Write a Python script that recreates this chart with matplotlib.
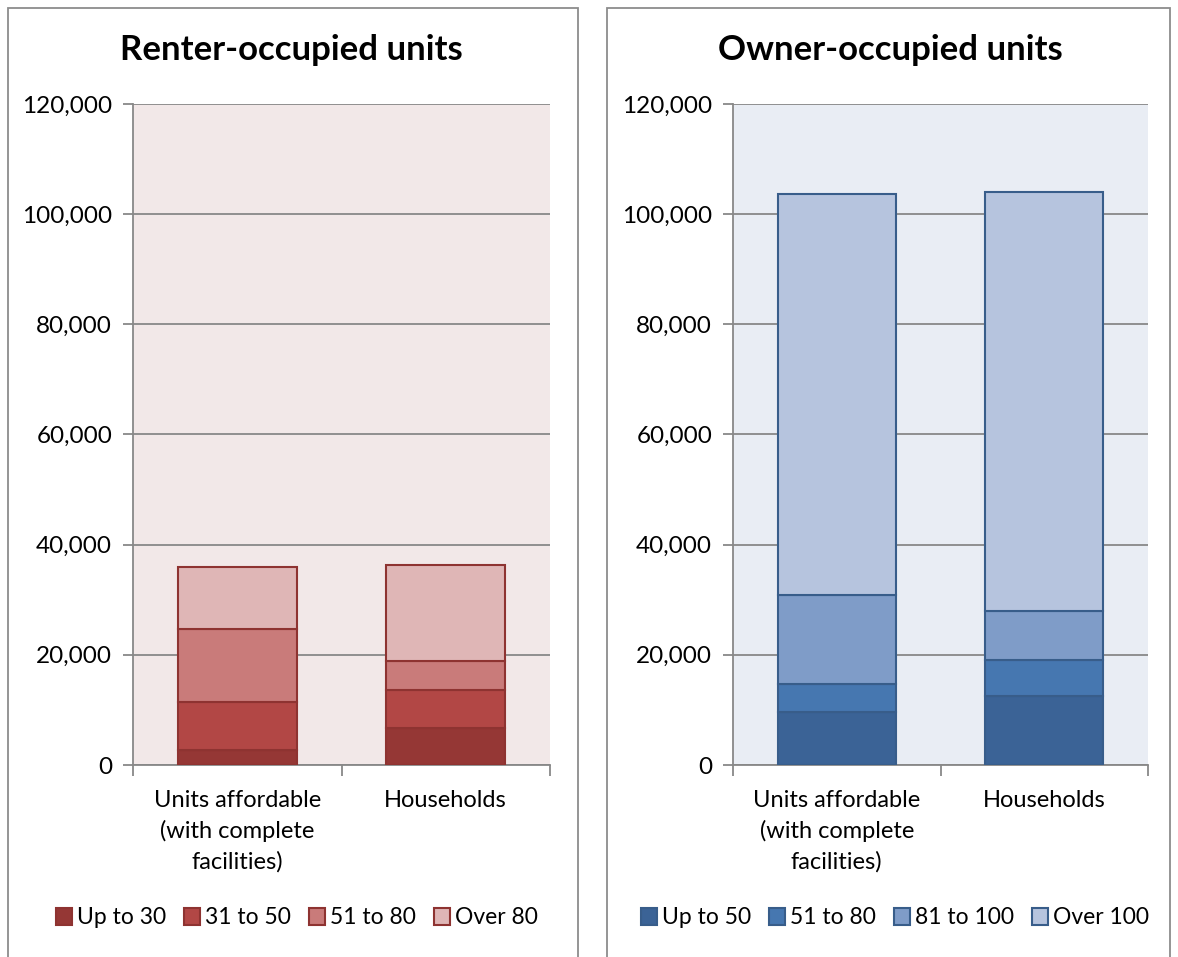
import matplotlib
matplotlib.use("Agg")
import matplotlib.pyplot as plt
import numpy as np
from matplotlib.patches import Rectangle
from matplotlib.ticker import FuncFormatter, FixedLocator

plt.rcParams['font.family'] = ['Lato', 'DejaVu Sans']

categories = ["Units affordable\n(with complete\nfacilities)", "Households"]

renter_labels = ["Up to 30", "31 to 50", "51 to 80", "Over 80"]
renter_up_to_30 = [2700, 6650]
renter_31_to_50 = [8700, 6900]
renter_51_to_80 = [13300, 5400]
renter_over_80 = [11300, 17400]

owner_labels = ["Up to 50", "51 to 80", "81 to 100", "Over 100"]
owner_up_to_50 = [9550, 12450]
owner_51_to_80 = [5100, 6550]
owner_81_to_100 = [16200, 9000]
owner_over_100 = [72850, 76000]

renter_colors = ["#953735", "#B24745", "#C97B7A", "#DFB6B6"]
owner_colors = ["#3B6396", "#4677B0", "#7F9CC8", "#B6C4DE"]

W, H = 1178, 957
fig = plt.figure(figsize=(W / 100, H / 100), dpi=100)

# panel frames
for x0, x1 in [(8, 578), (607, 1170)]:
    fig.patches.append(Rectangle((x0 / W, -0.01), (x1 - x0) / W, 1 - 8 / H + 0.01,
                                 transform=fig.transFigure, fill=False,
                                 edgecolor="#8C8C8C", linewidth=1.3))


def draw_panel(left_px, width_px, title, series, labels, colors, edge, bg,
               title_cx, leg_cx):
    ax = fig.add_axes([left_px / W, 1 - 765 / H, width_px / W, 661 / H])
    ax.set_facecolor(bg)
    x = np.arange(len(categories))
    bottom = np.zeros(len(categories))
    handles = []
    for vals, lab, col in zip(series, labels, colors):
        b = ax.bar(x, vals, width=0.57, bottom=bottom, color=col,
                   edgecolor=edge, linewidth=1.5, label=lab, zorder=3)
        handles.append(b)
        bottom += np.array(vals)
    ax.set_xlim(-0.5, 1.5)
    ax.set_ylim(0, 120000)
    ax.yaxis.set_major_locator(FixedLocator(np.arange(0, 120001, 20000)))
    ax.yaxis.set_major_formatter(FuncFormatter(lambda v, p: f"{int(v):,}"))
    ax.grid(axis="y", color="#888888", linewidth=1.3, zorder=1)
    ax.set_axisbelow(True)
    for s in ["top", "right"]:
        ax.spines[s].set_visible(False)
    for s in ["left", "bottom"]:
        ax.spines[s].set_color("#888888")
        ax.spines[s].set_linewidth(1.3)
    ax.set_xticks(x)
    ax.set_xticklabels(categories, fontsize=17, linespacing=1.5)
    ax.set_xticks([-0.5, 0.5, 1.5], minor=True)
    ax.tick_params(axis="x", which="major", length=0, pad=18)
    ax.tick_params(axis="x", which="minor", length=8, width=1.3, color="#888888")
    ax.tick_params(axis="y", length=7, width=1.3, color="#888888", labelsize=17.5, pad=8)
    for t in ax.get_xticklabels():
        t.set_verticalalignment("top")
    fig.text(title_cx / W, 1 - 50 / H, title, ha="center", va="center",
             fontsize=25, fontweight="bold")
    fig.legend(handles=handles, loc="center", bbox_to_anchor=(leg_cx / W, 1 - 918 / H),
               ncol=4, frameon=False, fontsize=16.5, handlelength=0.7, handleheight=0.7,
               handletextpad=0.2, columnspacing=0.8, borderaxespad=0)
    return ax


draw_panel(133, 417, "Renter-occupied units",
           [renter_up_to_30, renter_31_to_50, renter_51_to_80, renter_over_80],
           renter_labels, renter_colors, "#8E3331", "#F2E8E8", 291, 297)
draw_panel(733, 415, "Owner-occupied units",
           [owner_up_to_50, owner_51_to_80, owner_81_to_100, owner_over_100],
           owner_labels, owner_colors, "#385D8A", "#E9EDF4", 890, 895)

fig.savefig("out.png", dpi=100)
